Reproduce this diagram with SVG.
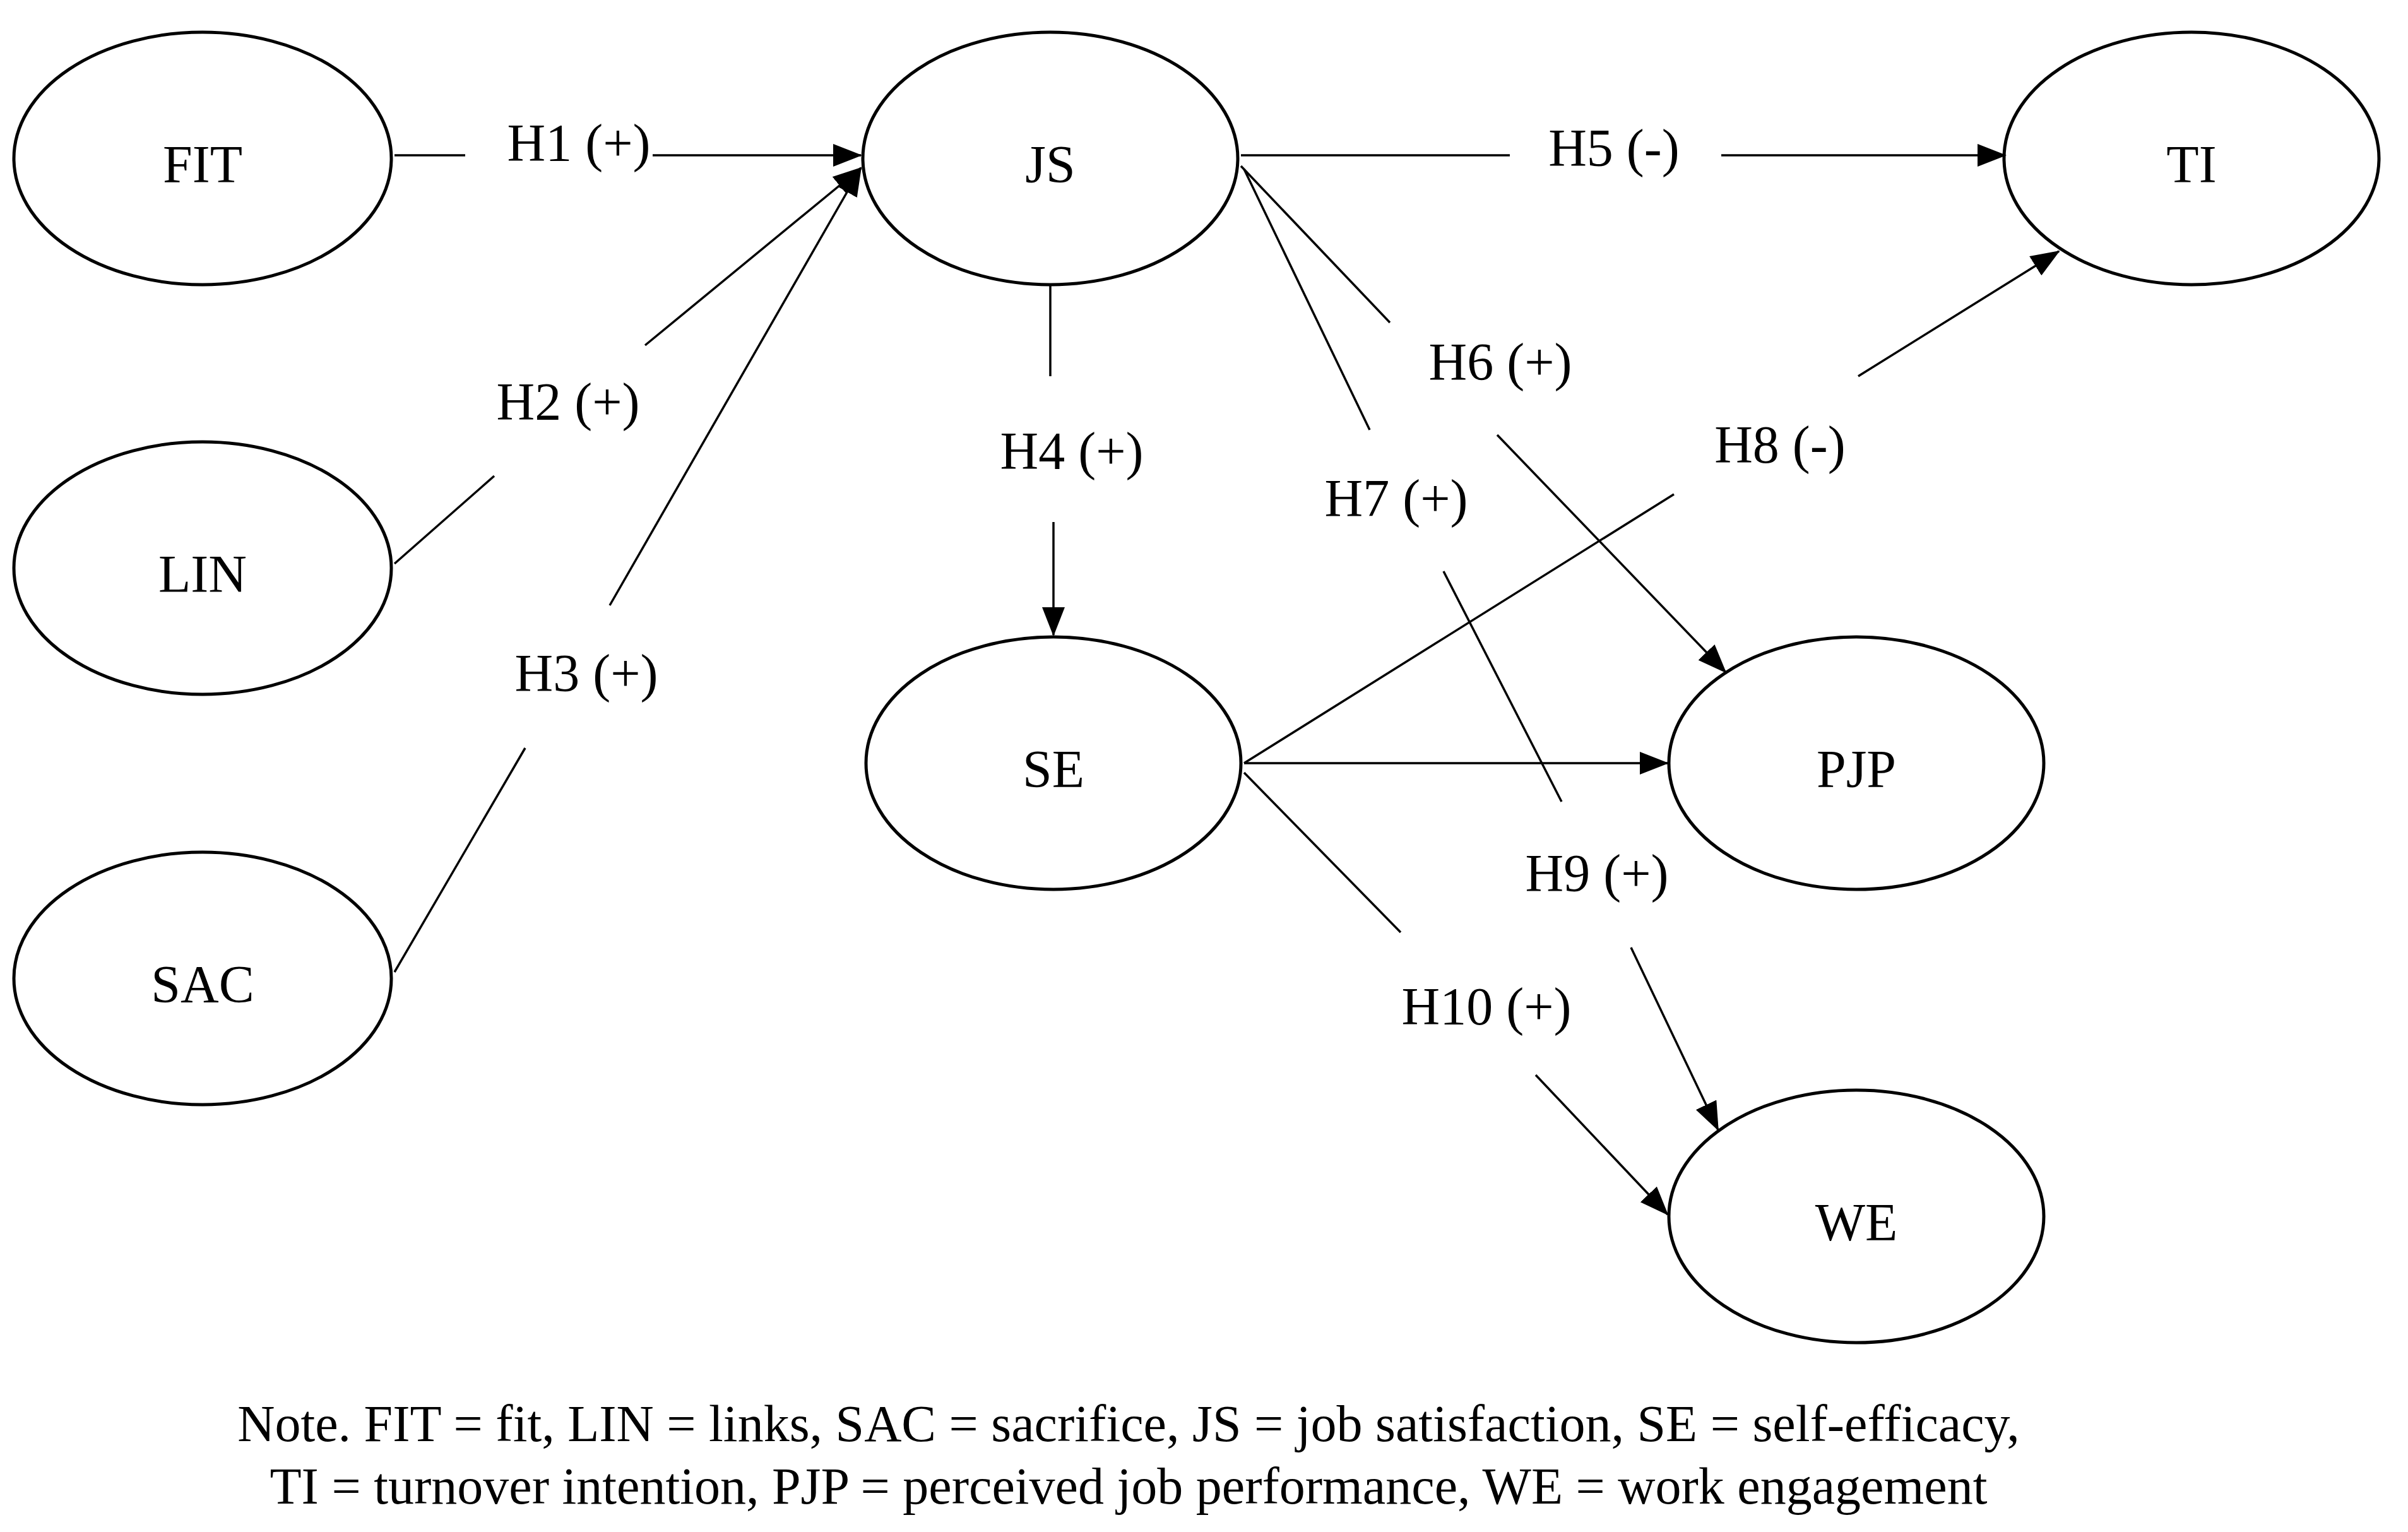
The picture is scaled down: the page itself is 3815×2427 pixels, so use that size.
<svg xmlns="http://www.w3.org/2000/svg" width="3815" height="2427" viewBox="0 0 3815 2427">
<style>
.n{fill:#fff;stroke:#000;stroke-width:5}
.t{font-family:"Liberation Serif",serif;font-size:84px;text-anchor:middle;dominant-baseline:central}
.l{font-family:"Liberation Serif",serif;font-size:84px;text-anchor:middle;dominant-baseline:central}
.c line{stroke:#000;stroke-width:3.5}
.note{font-family:"Liberation Serif",serif;font-size:82px;text-anchor:middle}
</style>
<defs>
<marker id="a" markerUnits="userSpaceOnUse" markerWidth="46" markerHeight="36" refX="44" refY="18" orient="auto">
<path d="M0,0 L46,18 L0,36 Z" fill="#000"/>
</marker>
</defs>
<rect width="3815" height="2427" fill="#fff"/>
<g id="FIT"><ellipse class="n" cx="321" cy="251" rx="299" ry="200"/><text class="t" x="321" y="260">FIT</text></g>
<g id="LIN"><ellipse class="n" cx="321" cy="900" rx="299" ry="200"/><text class="t" x="321" y="909">LIN</text></g>
<g id="SAC"><ellipse class="n" cx="321" cy="1550" rx="299" ry="200"/><text class="t" x="321" y="1559">SAC</text></g>
<g id="JS"><ellipse class="n" cx="1664" cy="251" rx="297" ry="200"/><text class="t" x="1664" y="260">JS</text></g>
<g id="TI"><ellipse class="n" cx="3472" cy="251" rx="297" ry="200"/><text class="t" x="3472" y="260">TI</text></g>
<g id="SE"><ellipse class="n" cx="1669" cy="1209" rx="297" ry="200"/><text class="t" x="1669" y="1218">SE</text></g>
<g id="PJP"><ellipse class="n" cx="2941" cy="1209" rx="297" ry="200"/><text class="t" x="2941" y="1218">PJP</text></g>
<g id="WE"><ellipse class="n" cx="2941" cy="1927" rx="297" ry="200"/><text class="t" x="2941" y="1936">WE</text></g>
<g class="c" id="connectors">
<line x1="625" y1="246" x2="737" y2="246"/><line x1="1034" y1="246" x2="1364" y2="246" marker-end="url(#a)"/>
<line x1="625" y1="893" x2="783" y2="754"/><line x1="1022" y1="547" x2="1364" y2="266" marker-end="url(#a)"/>
<line x1="625" y1="1540" x2="832" y2="1185"/><line x1="966" y1="959" x2="1364" y2="266" marker-end="url(#a)"/>
<line x1="1664" y1="450" x2="1664" y2="596"/><line x1="1669" y1="827" x2="1669" y2="1006" marker-end="url(#a)"/>
<line x1="1966" y1="246" x2="2392" y2="246"/><line x1="2727" y1="246" x2="3177" y2="246" marker-end="url(#a)"/>
<line x1="1966" y1="263" x2="2202" y2="511"/><line x1="2372" y1="689" x2="2734" y2="1065" marker-end="url(#a)"/>
<line x1="1971" y1="268" x2="2170" y2="681"/><line x1="2287" y1="905" x2="2474" y2="1270"/><line x1="2584" y1="1501" x2="2722" y2="1790" marker-end="url(#a)"/>
<line x1="1971" y1="1209" x2="2652" y2="783"/><line x1="2944" y1="596" x2="3262" y2="398" marker-end="url(#a)"/>
<line x1="1971" y1="1209" x2="2642" y2="1209" marker-end="url(#a)"/>
<line x1="1971" y1="1224" x2="2219" y2="1477"/><line x1="2433" y1="1703" x2="2642" y2="1924" marker-end="url(#a)"/>
</g>
<g id="labels">
<text class="l" x="917" y="226">H1 (+)</text>
<text class="l" x="900" y="636">H2 (+)</text>
<text class="l" x="929" y="1066">H3 (+)</text>
<text class="l" x="1698" y="714">H4 (+)</text>
<text class="l" x="2557" y="234">H5 (-)</text>
<text class="l" x="2377" y="573">H6 (+)</text>
<text class="l" x="2212" y="789">H7 (+)</text>
<text class="l" x="2820" y="704">H8 (-)</text>
<text class="l" x="2530" y="1383">H9 (+)</text>
<text class="l" x="2355" y="1594">H10 (+)</text>
</g>
<g id="note">
<text class="note" x="1788" y="2283">Note. FIT = fit, LIN = links, SAC = sacrifice, JS = job satisfaction, SE = self-efficacy,</text>
<text class="note" x="1788" y="2382">TI = turnover intention, PJP = perceived job performance, WE = work engagement</text>
</g>
</svg>
